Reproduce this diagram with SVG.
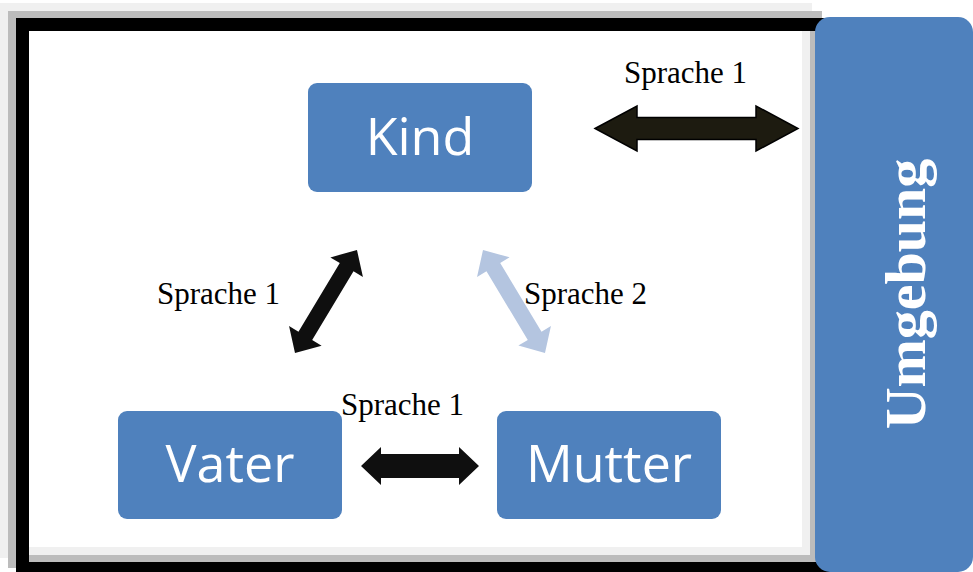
<svg xmlns="http://www.w3.org/2000/svg" width="973" height="572" viewBox="0 0 973 572">
  <style>
    .node { fill: #4f81bd; }
    .node-label { font-family: "Open Sans", "Noto Sans", sans-serif; font-size: 52px; fill: #ffffff; text-anchor: middle; }
    .edge-label { font-family: "Liberation Serif", "Times New Roman", serif; font-size: 31px; fill: #000000; }
    .side-label { font-family: "Liberation Serif", "Times New Roman", serif; font-size: 58px; font-weight: bold; fill: #ffffff; text-anchor: middle; }
    .arrow-dark { fill: #0f0f0f; }
    .arrow-light { fill: #b4c5e0; }
  </style>
  <defs>
    <!-- double-headed block arrow along the x axis, length 120 -->
    <polygon id="dbl-arrow" points="0,0 20,-19 20,-8 100,-8 100,-19 120,0 100,19 100,8 20,8 20,19"/>
  </defs>

  <rect width="973" height="572" fill="#ffffff"/>

  <!-- layered page frame -->
  <g id="frame" fill-rule="evenodd">
    <path fill="#f0f0f0" d="M0,3 H812 V558 H0 Z M8,11 V547 H802 V11 Z"/>
    <path fill="#bcbcbc" d="M8,11 H822 V568 H8 Z M16,18 V555 H810 V18 Z"/>
    <path fill="#000000" d="M16,18 H840 V590 H16 Z M29,31 V562 H820 V31 Z"/>
  </g>

  <!-- surroundings panel -->
  <g id="node-umgebung">
    <rect class="node" x="815" y="17" width="158" height="555" rx="15"/>
    <text class="side-label" transform="translate(925,294) rotate(-90)" x="0" y="0">Umgebung</text>
  </g>

  <g id="node-kind">
    <rect class="node" x="308" y="83" width="224" height="109" rx="9"/>
    <text class="node-label" x="420" y="155">Kind</text>
  </g>

  <g id="node-vater">
    <rect class="node" x="118" y="411" width="224" height="108" rx="9"/>
    <text class="node-label" x="230" y="482">Vater</text>
  </g>

  <g id="node-mutter">
    <rect class="node" x="497" y="411" width="224" height="108" rx="9"/>
    <text class="node-label" x="609" y="482">Mutter</text>
  </g>

  <g id="connectors">
    <!-- Kind <-> Umgebung -->
    <polygon fill="#1d1b10" stroke="#000000" stroke-width="1.5" stroke-linejoin="miter"
      points="595,128.5 637,106 637,117.5 756,117.5 756,106 798,128.5 756,151 756,139.5 637,139.5 637,151"/>
    <!-- Vater <-> Mutter -->
    <polygon class="arrow-dark"
      points="361,466 381,447 381,454 459,454 459,447 479,466 459,485 459,478 381,478 381,485"/>
    <!-- Kind <-> Vater -->
    <use href="#dbl-arrow" class="arrow-dark" transform="translate(295,353) rotate(-58.96) scale(1.0017,1)"/>
    <!-- Kind <-> Mutter -->
    <use href="#dbl-arrow" class="arrow-light" transform="translate(483,250) rotate(58.96) scale(1.0017,1)"/>

    <text class="edge-label" x="624" y="83">Sprache 1</text>
    <text class="edge-label" x="157" y="304">Sprache 1</text>
    <text class="edge-label" x="524" y="304">Sprache 2</text>
    <text class="edge-label" x="341" y="415">Sprache 1</text>
  </g>
</svg>
